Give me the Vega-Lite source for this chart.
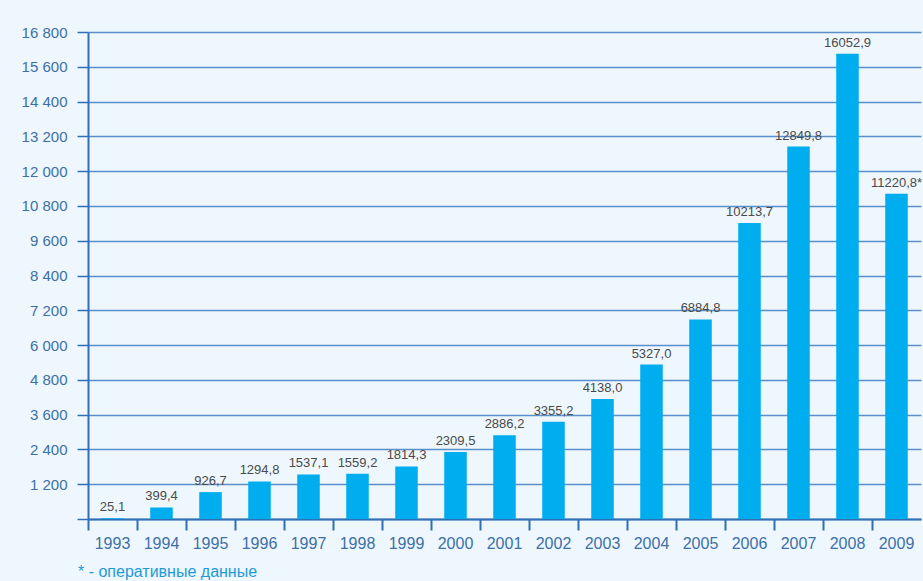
{
  "$schema": "https://vega.github.io/schema/vega-lite/v6.json",
  "width": 833,
  "height": 487,
  "autosize": {"type": "none"},
  "padding": {"left": 88, "top": 32, "right": 2, "bottom": 62},
  "background": "#eef7fd",
  "config": {
    "view": {"stroke": null},
    "font": "Liberation Sans",
    "locale": {"number": {"decimal": ",", "thousands": " ", "grouping": [3], "currency": ["", ""]}}
  },
  "title": {
    "text": "* - оперативные данные",
    "orient": "bottom",
    "anchor": "start",
    "frame": "group",
    "dx": -10,
    "offset": 13,
    "fontSize": 16,
    "fontWeight": "normal",
    "color": "#1e9ad8",
    "font": "Liberation Sans"
  },
  "data": {
    "values": [
      {"year": "1993", "value": 25.1, "label": "25,1"},
      {"year": "1994", "value": 399.4, "label": "399,4"},
      {"year": "1995", "value": 926.7, "label": "926,7"},
      {"year": "1996", "value": 1294.8, "label": "1294,8"},
      {"year": "1997", "value": 1537.1, "label": "1537,1"},
      {"year": "1998", "value": 1559.2, "label": "1559,2"},
      {"year": "1999", "value": 1814.3, "label": "1814,3"},
      {"year": "2000", "value": 2309.5, "label": "2309,5"},
      {"year": "2001", "value": 2886.2, "label": "2886,2"},
      {"year": "2002", "value": 3355.2, "label": "3355,2"},
      {"year": "2003", "value": 4138.0, "label": "4138,0"},
      {"year": "2004", "value": 5327.0, "label": "5327,0"},
      {"year": "2005", "value": 6884.8, "label": "6884,8"},
      {"year": "2006", "value": 10213.7, "label": "10213,7"},
      {"year": "2007", "value": 12849.8, "label": "12849,8"},
      {"year": "2008", "value": 16052.9, "label": "16052,9"},
      {"year": "2009", "value": 11220.8, "label": "11220,8*"}
    ]
  },
  "encoding": {
    "x": {
      "field": "year",
      "type": "ordinal",
      "scale": {"paddingInner": 0, "paddingOuter": 0},
      "axis": {
        "title": null,
        "labelAngle": 0,
        "bandPosition": 0,
        "domainColor": "#2f6fb5",
        "domainWidth": 2,
        "tickColor": "#2f6fb5",
        "tickWidth": 2,
        "tickSize": 11,
        "labelPadding": 5,
        "labelFontSize": 16,
        "labelColor": "#3d6fa8",
        "labelBaseline": "top"
      }
    },
    "y": {
      "field": "value",
      "type": "quantitative",
      "scale": {"domain": [0, 16800], "nice": false},
      "axis": {
        "title": null,
        "values": [0, 1200, 2400, 3600, 4800, 6000, 7200, 8400, 9600, 10800, 12000, 13200, 14400, 15600, 16800],
        "labelExpr": "datum.value == 0 ? '' : format(datum.value, ',d')",
        "grid": true,
        "gridColor": "#5b8fca",
        "gridWidth": 1.5,
        "domainColor": "#2f6fb5",
        "domainWidth": 2,
        "tickColor": "#2f6fb5",
        "tickWidth": 1.5,
        "tickSize": 11,
        "labelPadding": 10,
        "labelFontSize": 15,
        "labelColor": "#3d6fa8"
      }
    }
  },
  "layer": [
    {
      "mark": {"type": "bar", "color": "#00adef", "width": {"band": 0.46}}
    },
    {
      "mark": {"type": "text", "baseline": "bottom", "dy": -4, "fontSize": 13, "color": "#4a4a4a"},
      "encoding": {"text": {"field": "label"}}
    }
  ]
}
